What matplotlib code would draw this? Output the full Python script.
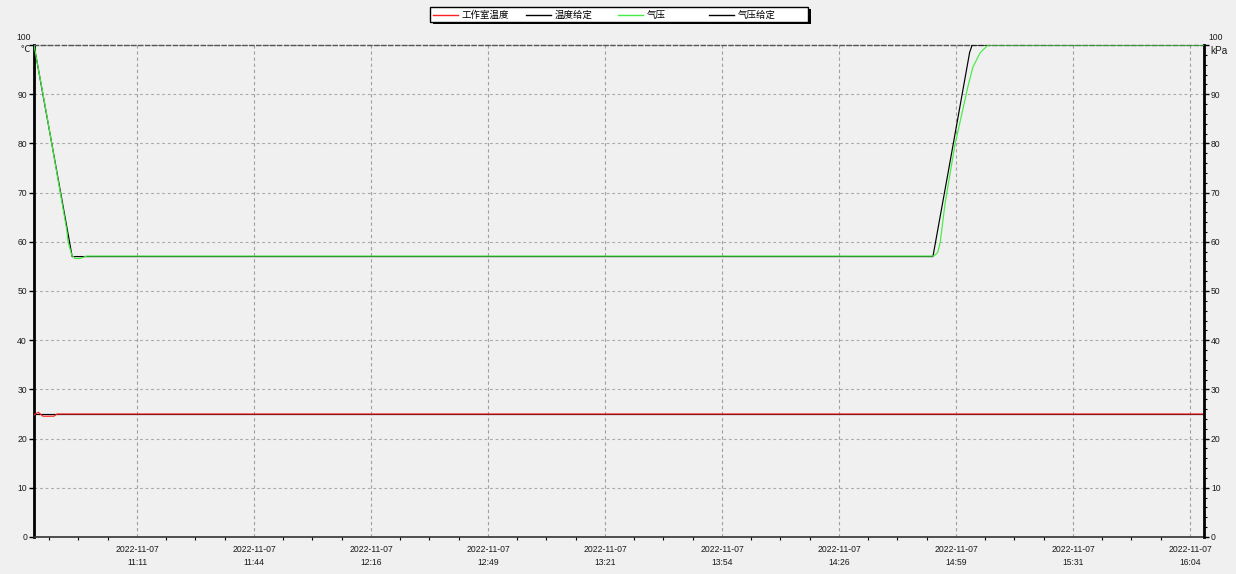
import matplotlib
matplotlib.use('Agg')
import matplotlib.pyplot as plt
from matplotlib.ticker import MultipleLocator
from matplotlib.lines import Line2D
from matplotlib.patches import Rectangle

plt.rcParams['font.family'] = ['Liberation Sans', 'Noto Sans CJK SC', 'DejaVu Sans']

# ---------------- data (time = minutes after 10:42:53) ----------------
x_range = [0, 325]
tick_first = 28.6          # 11:11:30
tick_step = 32.5           # minutes between labelled ticks
tick_dates = ['2022-11-07'] * 10
tick_times = ['11:11', '11:44', '12:16', '12:49', '13:21',
              '13:54', '14:26', '14:59', '15:31', '16:04']

room_temp_t = [0, 0.4, 1.2, 2.5, 5.5, 6.4, 325]
room_temp_v = [24.8, 25.0, 25.35, 24.55, 24.55, 25.0, 25.0]

temp_set_t = [0, 325]
temp_set_v = [25, 25]

pressure_t = [0, 3.3, 9.1, 9.45, 10.5, 11.4, 12.8, 14.6, 249.9, 251.0, 251.7,
              253.1, 255.8, 257.8, 259.4, 260.8, 262.8, 265.0, 325]
pressure_v = [100, 86.8, 62.4, 60.0, 57.3, 56.6, 56.6, 57.1, 57.1, 57.8, 59.8,
              67.9, 79.7, 86.2, 91.5, 95.5, 98.4, 100, 100]

pressure_set_t = [0, 10.6, 249.7, 253.9, 259.9, 260.6, 325]
pressure_set_v = [100, 57, 57, 74, 98.5, 100, 100]

series_labels = ['工作室温度', '温度给定', '气压', '气压给定']
series_colors = ['#ff2020', '#000000', '#44ec44', '#000000']

y_ticks = list(range(0, 101, 10))
left_unit = '℃'
right_unit = 'kPa'

# ---------------- figure ----------------
W, H = 1236, 574
bg = '#f0f0f0'
txt = '#1a1a1a'
fig = plt.figure(figsize=(W / 100, H / 100), dpi=100, facecolor=bg)
ax = fig.add_axes([34 / W, 37 / H, 1170 / W, 492 / H])
ax.set_facecolor(bg)
ax2 = ax.twinx()

lw = 0.85
ax.plot(temp_set_t, temp_set_v, color=series_colors[1], lw=lw, zorder=3)
ax.plot(room_temp_t, room_temp_v, color=series_colors[0], lw=lw, zorder=4)
ax2.plot(pressure_set_t, pressure_set_v, color=series_colors[3], lw=lw, zorder=3)
ax2.plot(pressure_t, pressure_v, color=series_colors[2], lw=lw, zorder=4)

ax.set_xlim(*x_range)
ax.set_ylim(0, 100)
ax2.set_ylim(0, 100)

# y axes
ylabels = [str(v) for v in y_ticks[:-1]] + ['']
ax.set_yticks(y_ticks)
ax.set_yticklabels(ylabels)
ax.tick_params(axis='y', direction='out', length=3.5, width=1, pad=1.5,
               labelsize=6.2, labelcolor=txt)
ax2.set_yticks(y_ticks)
ax2.set_yticklabels(ylabels)
ax2.yaxis.set_minor_locator(MultipleLocator(2))
ax2.tick_params(axis='y', which='major', direction='out', length=3.5, width=1,
                pad=1.5, labelsize=6.2, labelcolor=txt)
ax2.tick_params(axis='y', which='minor', direction='out', length=2.5, width=0.8)

# x axis
n = len(tick_times)
major = [tick_first + k * tick_step for k in range(n)]
ax.set_xticks(major)
ax.set_xticklabels([f'{d}\n{t}' for d, t in zip(tick_dates, tick_times)],
                   linespacing=1.5)
minor = []
v = tick_first - tick_step
while v < x_range[1]:
    for j in range(1, 4):
        m = v + j * tick_step / 4
        if x_range[0] < m < x_range[1]:
            minor.append(m)
    v += tick_step
ax.set_xticks(minor, minor=True)
ax.tick_params(axis='x', which='major', length=0, pad=6, labelsize=6.2,
               labelcolor=txt)
ax.tick_params(axis='x', which='minor', direction='out', length=2.5, width=0.8)

# grid
ax.grid(axis='x', which='major', color='#a0a0a0', ls=(0, (3, 2.5)), lw=0.8)
ax.grid(axis='y', which='major', color='#aaaaaa', ls=(0, (2.5, 2.5)), lw=0.8)
ax.set_axisbelow(True)

# spines
for a in (ax, ax2):
    for s in a.spines.values():
        s.set_visible(False)
ax.spines['left'].set_visible(True)
ax.spines['left'].set_linewidth(2)
ax.spines['left'].set_color('black')
ax2.spines['right'].set_visible(True)
ax2.spines['right'].set_linewidth(2)
ax2.spines['right'].set_color('black')
ax.spines['bottom'].set_visible(True)
ax.spines['bottom'].set_linewidth(1.2)
ax.spines['bottom'].set_color('#333333')
ax.spines['bottom'].set_linestyle((0, (3, 1)))
ax.spines['top'].set_visible(True)
ax.spines['top'].set_linewidth(1.0)
ax.spines['top'].set_color('#555555')
ax.spines['top'].set_linestyle((0, (3, 2)))

# "100" labels and units
fs = 6.2
fig.text(31 / W, 1 - 38 / H, '100', ha='right', va='center', fontsize=fs, color=txt)
fig.text(30 / W, 1 - 50 / H, left_unit, ha='right', va='center', fontsize=fs + 0.5, color=txt)
fig.text(1208 / W, 1 - 38 / H, '100', ha='left', va='center', fontsize=fs, color=txt)
fig.text(1210 / W, 1 - 51 / H, right_unit, ha='left', va='center', fontsize=fs + 1, color=txt)

# legend (manual, fixed column widths)
bx0, bx1, by0, by1 = 430, 808, 7, 22
shadow = Rectangle(((bx0 + 3) / W, 1 - (by1 + 2) / H), (bx1 - bx0) / W, (by1 - by0) / H,
                   transform=fig.transFigure, facecolor='black', edgecolor='none', zorder=5)
box = Rectangle((bx0 / W, 1 - by1 / H), (bx1 - bx0) / W, (by1 - by0) / H,
                transform=fig.transFigure, facecolor='white', edgecolor='black', lw=1, zorder=6)
fig.patches.extend([shadow, box])
entry_x = [433, 526, 618, 709]
ly = 1 - 15 / H
for ex, lab, col in zip(entry_x, series_labels, series_colors):
    fig.lines.append(Line2D([ex / W, (ex + 25) / W], [ly, ly], transform=fig.transFigure,
                            color=col, lw=1, zorder=7))
    fig.text((ex + 29) / W, ly, lab, ha='left', va='center', fontsize=6.8,
             family=['Noto Sans CJK SC', 'DejaVu Sans'], color='black', zorder=8)

fig.savefig('out.png', dpi=100, facecolor=bg)
